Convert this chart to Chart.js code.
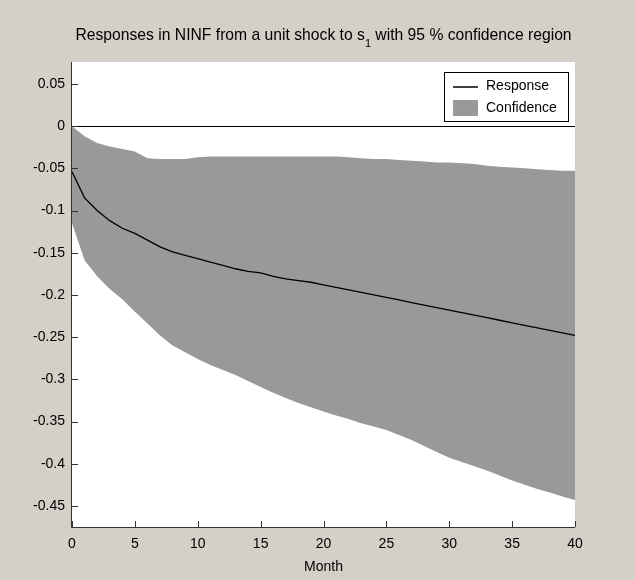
<!DOCTYPE html>
<html>
<head>
<meta charset="utf-8">
<script src="https://cdn.jsdelivr.net/npm/chart.js@4/dist/chart.umd.min.js"></script>
<style>
  html, body { margin: 0; padding: 0; background: #d4d0c8; }
  #wrap { width: 635px; height: 580px; position: relative; }
</style>
</head>
<body>
<div id="wrap"><canvas id="irf"></canvas></div>
<script>
// ─── Data ─────────────────────────────────────────────────────────────────
const months = Array.from({ length: 41 }, (_, i) => i);

const response = [
  -0.054, -0.085, -0.100, -0.112, -0.121, -0.127, -0.135, -0.143, -0.149, -0.153,
  -0.157, -0.161, -0.165, -0.169, -0.172, -0.174, -0.178, -0.181, -0.183, -0.185,
  -0.188, -0.191, -0.194, -0.197, -0.200, -0.203, -0.206, -0.209, -0.212, -0.215,
  -0.218, -0.221, -0.224, -0.227, -0.230, -0.233, -0.236, -0.239, -0.242, -0.245,
  -0.248
];

const upperBand = [
  0.000, -0.012, -0.020, -0.024, -0.027, -0.030, -0.038, -0.039, -0.039, -0.039,
  -0.037, -0.036, -0.036, -0.036, -0.036, -0.036, -0.036, -0.036, -0.036, -0.036,
  -0.036, -0.036, -0.037, -0.038, -0.039, -0.039, -0.040, -0.041, -0.042, -0.043,
  -0.043, -0.044, -0.045, -0.047, -0.048, -0.049, -0.050, -0.051, -0.052, -0.053,
  -0.053
];

const lowerBand = [
  -0.115, -0.159, -0.178, -0.193, -0.205, -0.220, -0.234, -0.248, -0.260, -0.268,
  -0.276, -0.283, -0.289, -0.295, -0.302, -0.309, -0.316, -0.322, -0.328, -0.333,
  -0.338, -0.343, -0.347, -0.352, -0.356, -0.360, -0.366, -0.372, -0.379, -0.386,
  -0.393, -0.398, -0.403, -0.408, -0.414, -0.420, -0.425, -0.430, -0.434, -0.439,
  -0.443
];

const xTicks = [0, 5, 10, 15, 20, 25, 30, 35, 40];
const yTicks = [0.05, 0, -0.05, -0.1, -0.15, -0.2, -0.25, -0.3, -0.35, -0.4, -0.45];

const FONT = '"Liberation Sans", Arial, sans-serif';
const BAND_GREY = '#999999';

// ─── Plugins ──────────────────────────────────────────────────────────────
// white plot area under the data
const plotBg = {
  id: 'plotBg',
  beforeDatasetsDraw(chart) {
    const { ctx, chartArea: a } = chart;
    ctx.save();
    ctx.fillStyle = '#fff';
    ctx.fillRect(a.left, a.top, a.right - a.left, a.bottom - a.top);
    ctx.restore();
  }
};

// title with subscript, drawn above the axes
const titlePlugin = {
  id: 'subTitle',
  afterDraw(chart) {
    const ctx = chart.ctx;
    const parts = [
      { t: 'Responses in NINF from a unit shock to s', sub: false },
      { t: '1', sub: true },
      { t: ' with 95 % confidence region', sub: false },
    ];
    ctx.save();
    ctx.fillStyle = '#000';
    ctx.textBaseline = 'alphabetic';
    const big = '15.7px ' + FONT, small = '11px ' + FONT;
    let total = 0;
    parts.forEach(p => { ctx.font = p.sub ? small : big; total += ctx.measureText(p.t).width; });
    const area = chart.chartArea;
    let x = (area.left + area.right) / 2 - total / 2;
    parts.forEach(p => {
      ctx.font = p.sub ? small : big;
      ctx.fillText(p.t, x, p.sub ? 47 : 40);
      x += ctx.measureText(p.t).width;
    });
    ctx.restore();
  }
};

// zero line, inward ticks, left/bottom axis lines and legend box
const axesPlugin = {
  id: 'matlabAxes',
  afterDatasetsDraw(chart) {
    const { ctx, chartArea: a, scales } = chart;
    ctx.save();
    // y = 0 reference line
    const y0 = scales.y.getPixelForValue(0);
    ctx.strokeStyle = '#000';
    ctx.lineWidth = 1;
    ctx.beginPath();
    ctx.moveTo(a.left, Math.round(y0) + 0.5);
    ctx.lineTo(a.right, Math.round(y0) + 0.5);
    ctx.stroke();

    // axis lines
    ctx.strokeStyle = '#333';
    ctx.beginPath();
    ctx.moveTo(a.left - 0.5, a.top);
    ctx.lineTo(a.left - 0.5, a.bottom + 0.5);
    ctx.lineTo(a.right, a.bottom + 0.5);
    ctx.stroke();

    // inward ticks
    ctx.beginPath();
    scales.x.ticks.forEach(t => {
      const px = Math.round(scales.x.getPixelForValue(t.value)) + 0.5;
      ctx.moveTo(px, a.bottom);
      ctx.lineTo(px, a.bottom - 6);
    });
    scales.y.ticks.forEach(t => {
      const py = Math.round(scales.y.getPixelForValue(t.value)) + 0.5;
      ctx.moveTo(a.left, py);
      ctx.lineTo(a.left + 6, py);
    });
    ctx.stroke();

    // legend
    const lx = 444, ly = 72, lw = 124, lh = 49;
    ctx.fillStyle = '#fff';
    ctx.fillRect(lx, ly, lw, lh);
    ctx.strokeStyle = '#000';
    ctx.strokeRect(lx + 0.5, ly + 0.5, lw, lh);
    const ds = chart.data.datasets;
    ctx.font = '14px ' + FONT;
    ctx.textBaseline = 'middle';
    ctx.fillStyle = '#000';
    ctx.strokeStyle = ds[2].borderColor;
    ctx.lineWidth = 1.5;
    ctx.beginPath();
    ctx.moveTo(453, 87);
    ctx.lineTo(478, 87);
    ctx.stroke();
    ctx.fillText(ds[2].label, 486, 86);
    ctx.fillStyle = ds[0].backgroundColor;
    ctx.fillRect(453, 100, 25, 16);
    ctx.fillStyle = '#000';
    ctx.fillText(ds[0].label, 486, 108);
    ctx.restore();
  }
};

const fmt = v => {
  const r = Math.round(v * 100) / 100;
  return r === 0 ? '0' : String(r);
};

// ─── Chart ────────────────────────────────────────────────────────────────
new Chart(document.getElementById('irf'), {
  type: 'line',
  data: {
    labels: months,
    datasets: [
      {
        label: 'Confidence',
        data: upperBand,
        borderWidth: 0,
        pointRadius: 0,
        backgroundColor: BAND_GREY,
        fill: '+1',
        tension: 0,
        order: 2,
      },
      {
        label: 'lower',
        data: lowerBand,
        borderWidth: 0,
        pointRadius: 0,
        fill: false,
        tension: 0,
        order: 3,
      },
      {
        label: 'Response',
        data: response,
        borderColor: '#000',
        borderWidth: 1.3,
        pointRadius: 0,
        fill: false,
        tension: 0,
        order: 0,
      },
    ],
  },
  plugins: [plotBg, titlePlugin, axesPlugin],
  options: {
    responsive: true,
    maintainAspectRatio: false,
    animation: false,
    layout: { padding: { top: 62, right: 60, left: 0, bottom: 0 } },
    plugins: {
      legend: { display: false },
      tooltip: { enabled: false },
      title: { display: false },
    },
    scales: {
      x: {
        type: 'linear',
        min: 0,
        max: 40,
        afterBuildTicks: s => { s.ticks = xTicks.map(v => ({ value: v })); },
        afterFit: s => { s.height = 53; },
        grid: { display: false, drawTicks: false },
        border: { display: false },
        ticks: { color: '#000', font: { family: FONT, size: 14 }, padding: 9, maxRotation: 0 },
        title: {
          display: true,
          text: 'Month',
          color: '#000',
          font: { family: FONT, size: 14 },
          padding: { top: 0, bottom: 4 },
        },
      },
      y: {
        min: -0.475,
        max: 0.076,
        afterBuildTicks: s => { s.ticks = yTicks.map(v => ({ value: v })); },
        afterFit: s => { s.width = 72; },
        grid: { display: false, drawTicks: false },
        border: { display: false },
        ticks: { color: '#000', font: { family: FONT, size: 14 }, padding: 7, callback: fmt },
      },
    },
  },
});
</script>
</body>
</html>
